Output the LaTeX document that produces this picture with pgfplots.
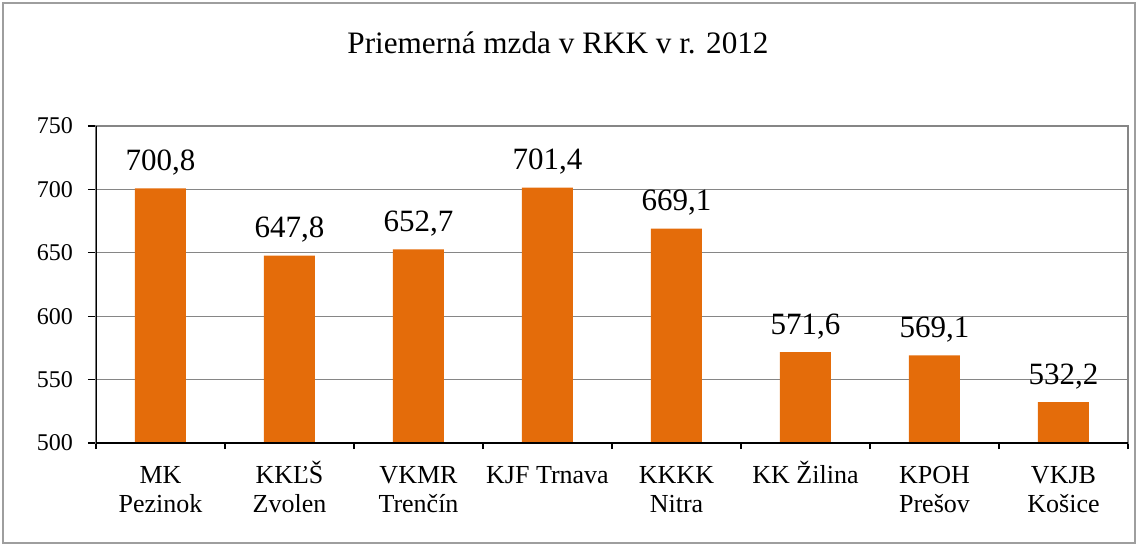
\documentclass[border=0pt]{standalone}
\usepackage{pgfplots}
\pgfplotsset{compat=1.18}
\usepackage{fontspec}
\setmainfont{Liberation Serif}
\definecolor{barorange}{HTML}{E46C0A}
\definecolor{gridgray}{HTML}{868686}
\newcommand{\st}{\rule{0pt}{12pt}}
\begin{document}
\begin{tikzpicture}[x=1pt,y=1pt]
\path[use as bounding box] (0,0) rectangle (568.5,-273);
\draw[gridgray!80, line width=0.6pt] (1.5,-1.5) rectangle (567.5,-271.5);
\node[font=\fontsize{15.6}{18}\selectfont] at (279,-21.5) {Priemerná mzda v RKK v r. 2012};
\begin{axis}[
 at={(48pt,-221.5pt)}, anchor=south west,
 scale only axis, width=516pt, height=158.5pt,
 ybar, bar width=25.5pt, bar shift=0pt,
 xmin=-0.5, xmax=7.5, ymin=500, ymax=750,
 ytick={500,550,...,750},
 yticklabel={\pgfmathprintnumber[assume math mode=true,fixed,precision=0]{\tick}},
 xtick={0,...,7},
 xticklabels={{\st MK\\Pezinok},{\st KKĽŠ\\Zvolen},{\st VKMR\\Trenčín},{\st KJF Trnava},{\st KKKK\\Nitra},{\st KK Žilina},{\st KPOH\\Prešov},{\st VKJB\\Košice}},
 xticklabel style={align=center, font=\fontsize{13}{14.5}\selectfont, anchor=north, yshift=-0.6pt},
 yticklabel style={font=\fontsize{12}{14}\selectfont, xshift=-4pt},
 tick pos=left, tick align=outside,
 major tick length=4pt,
 major x tick style={draw=none},
 minor xtick={-0.5,0.5,...,7.5},
 minor tick length=3pt,
 minor x tick style={black, line width=0.6pt},
 major y tick style={black, line width=0.6pt},
 ymajorgrids, major grid style={gridgray, line width=0.6pt},
 axis line style={gridgray, line width=0.8pt},
 nodes near coords={\pgfmathprintnumber[assume math mode=true,fixed,fixed zerofill,precision=1,use comma]{\pgfplotspointmeta}},
 nodes near coords style={anchor=base, inner sep=0pt, yshift=9pt, font=\fontsize{15.5}{18}\selectfont, text=black},
]
\addplot[fill=barorange, draw=none] coordinates {(0,700.8) (1,647.8) (2,652.7) (3,701.4) (4,669.1) (5,571.6) (6,569.1) (7,532.2)};
\draw[black, line width=0.8pt] (rel axis cs:0,1) -- (rel axis cs:0,0) -- (rel axis cs:1,0);
\end{axis}
\end{tikzpicture}
\end{document}
